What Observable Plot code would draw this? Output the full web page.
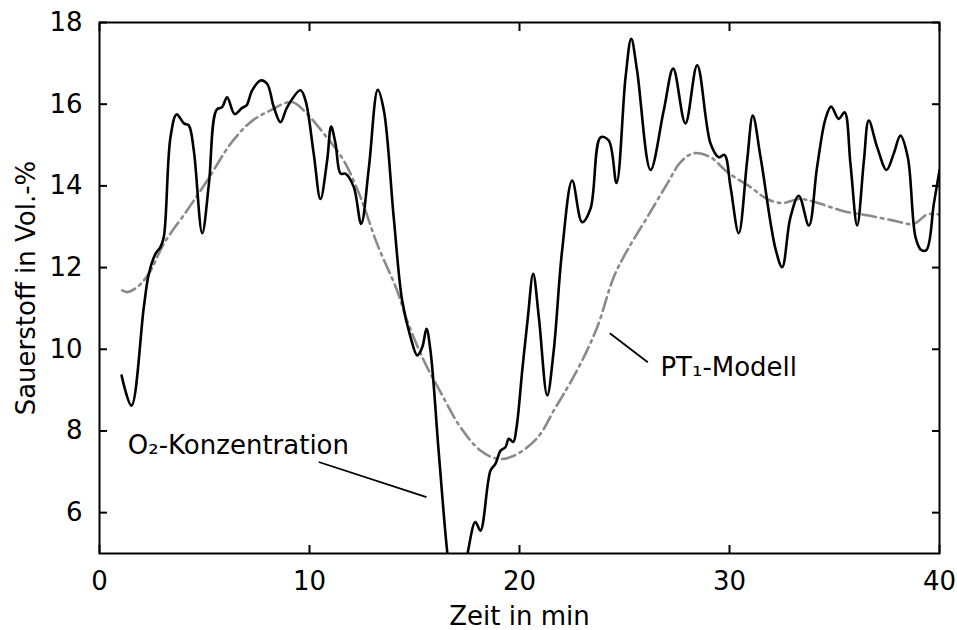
<!DOCTYPE html>
<html><head><meta charset="utf-8">
<script src="https://cdn.jsdelivr.net/npm/d3@7"></script>
<script src="https://cdn.jsdelivr.net/npm/@observablehq/plot@0.6"></script>
<style>body{margin:0;background:#fff;}</style>
</head><body><div id="chart"></div>
<script>
// O2 concentration (measured)
const o2Time = [1.05,1.52,2.11,2.35,2.67,2.9,3.06,3.38,3.67,4.02,4.25,4.49,4.89,5.21,5.57,5.84,6.08,6.43,6.79,7.0,7.27,7.67,7.98,8.3,8.62,8.94,9.57,9.81,10.2,10.52,10.84,11.03,11.24,11.48,11.71,12.11,12.46,12.83,13.25,13.54,14.01,14.41,14.81,15.13,15.37,15.57,15.76,16.16,16.56,17.0,17.54,17.9,18.14,18.62,18.86,19.1,19.33,19.49,19.7,19.86,20.13,20.4,20.65,20.92,21.32,21.63,22.03,22.51,22.98,23.38,23.86,24.25,24.62,25.05,25.32,25.6,26.24,26.87,27.32,27.9,28.46,29.1,29.49,29.76,30.05,30.44,30.84,31.11,31.48,32.19,32.51,32.9,33.3,33.78,34.17,34.57,34.84,35.2,35.48,35.76,36.08,36.4,36.63,37.03,37.48,37.82,38.14,38.49,38.86,39.13,39.38,39.73,40.0];
const o2Value = [9.36,8.62,11.03,11.85,12.34,12.5,12.74,15.19,15.75,15.53,15.48,14.87,12.84,14.05,15.86,15.93,16.17,15.76,15.91,15.97,16.34,16.58,16.5,15.93,15.56,15.93,16.34,16.09,14.79,13.68,14.62,15.45,15.03,14.3,14.3,13.97,13.07,14.46,16.35,15.85,13.23,11.2,10.3,9.85,10.05,10.5,9.97,7.44,5.03,3.2,5.03,5.77,5.56,7.03,7.2,7.52,7.6,7.81,7.73,8.09,9.48,10.79,11.85,10.79,8.87,9.97,12.42,14.13,13.11,13.44,15.19,15.11,14.07,16.66,17.6,16.82,14.39,15.85,16.87,15.53,16.95,15.03,14.7,14.76,13.97,12.84,14.62,15.72,14.7,12.46,12.01,13.23,13.76,13.03,14.46,15.64,15.94,15.64,15.8,14.54,13.03,14.62,15.6,14.95,14.39,14.79,15.23,14.7,12.74,12.43,12.43,13.56,14.38];

// PT1 model
const modelTime = [1.08,1.32,1.79,2.35,3.06,4.17,5.13,6.24,7.19,8.14,9.17,9.89,10.68,11.63,12.43,13.22,14.17,14.65,15.44,16.24,17.19,18.14,18.94,19.57,20.37,21.0,21.63,22.11,22.9,23.7,24.49,25.13,26.08,27.03,27.67,28.3,29.1,29.89,31.0,31.79,32.51,33.38,34.33,35.44,36.56,37.82,38.78,39.41,40.0];
const modelValue = [11.44,11.4,11.52,11.85,12.58,13.4,14.13,15.03,15.56,15.85,16.05,15.76,15.28,14.62,13.72,12.58,11.44,10.7,9.73,8.95,8.09,7.52,7.32,7.36,7.6,7.93,8.5,8.91,9.64,10.54,11.77,12.42,13.23,14.05,14.58,14.8,14.7,14.34,13.97,13.68,13.58,13.68,13.56,13.38,13.28,13.15,13.07,13.3,13.3];

const xTicks = [0,10,20,30,40];
const yTicks = [6,8,10,12,14,16,18];
const xLabel = "Zeit in min";
const yLabel = "Sauerstoff in Vol.-%";

// annotations
const annText = ["O₂-Konzentration","PT₁-Modell"];
const annX = [1.35, 26.71];
const annY = [7.65, 9.54];
const leadX1 = [10.44, 24.3];
const leadY1 = [7.24, 10.39];
const leadX2 = [15.57, 26.11];
const leadY2 = [6.38, 9.68];

const o2 = o2Time.map((t,i)=>({t, v:o2Value[i]}));
const model = modelTime.map((t,i)=>({t, v:modelValue[i]}));
const anns = annText.map((s,i)=>({s, x:annX[i], y:annY[i]}));
const leads = leadX1.map((x,i)=>({x1:x, y1:leadY1[i], x2:leadX2[i], y2:leadY2[i]}));
const blank = () => "";

const chart = Plot.plot({
  width: 957, height: 630,
  marginLeft: 99, marginRight: 18, marginTop: 22, marginBottom: 77,
  style: {fontFamily: "DejaVu Sans", fontSize: "26px", color: "black", background: "white"},
  x: {domain: [0, 40]},
  y: {domain: [5, 18]},
  marks: [
    Plot.line(model, {x:"t", y:"v", stroke:"#8a8a8a", strokeWidth:2.6, strokeDasharray:"14,5,2.5,5", curve:"catmull-rom", clip:true}),
    Plot.line(o2, {x:"t", y:"v", stroke:"black", strokeWidth:2.6, curve:"catmull-rom", clip:true}),
    Plot.link(leads, {x1:"x1", y1:"y1", x2:"x2", y2:"y2", stroke:"black", strokeWidth:1.8}),
    Plot.text(anns, {x:"x", y:"y", text:"s", textAnchor:"start", fontSize:26, fill:"black"}),
    Plot.axisX(xTicks, {anchor:"bottom", tickSize:0, tickPadding:18, fontSize:26, label:xLabel, labelAnchor:"center", labelArrow:"none", labelOffset:71}),
    Plot.axisX(xTicks, {anchor:"bottom", tickSize:8, dy:-8, strokeWidth:2, tickFormat:blank, label:null}),
    Plot.axisX(xTicks, {anchor:"top", tickSize:8, dy:8, strokeWidth:2, tickFormat:blank, label:null}),
    Plot.axisY(yTicks, {anchor:"left", tickSize:0, tickPadding:17, fontSize:26, label:yLabel, labelAnchor:"center", labelArrow:"none", labelOffset:83}),
    Plot.axisY(yTicks, {anchor:"left", tickSize:8, dx:8, strokeWidth:2, tickFormat:blank, label:null}),
    Plot.axisY(yTicks, {anchor:"right", tickSize:8, dx:-8, strokeWidth:2, tickFormat:blank, label:null}),
    Plot.frame({stroke:"black", strokeWidth:2})
  ]
});
document.getElementById("chart").appendChild(chart);
</script>
</body></html>
